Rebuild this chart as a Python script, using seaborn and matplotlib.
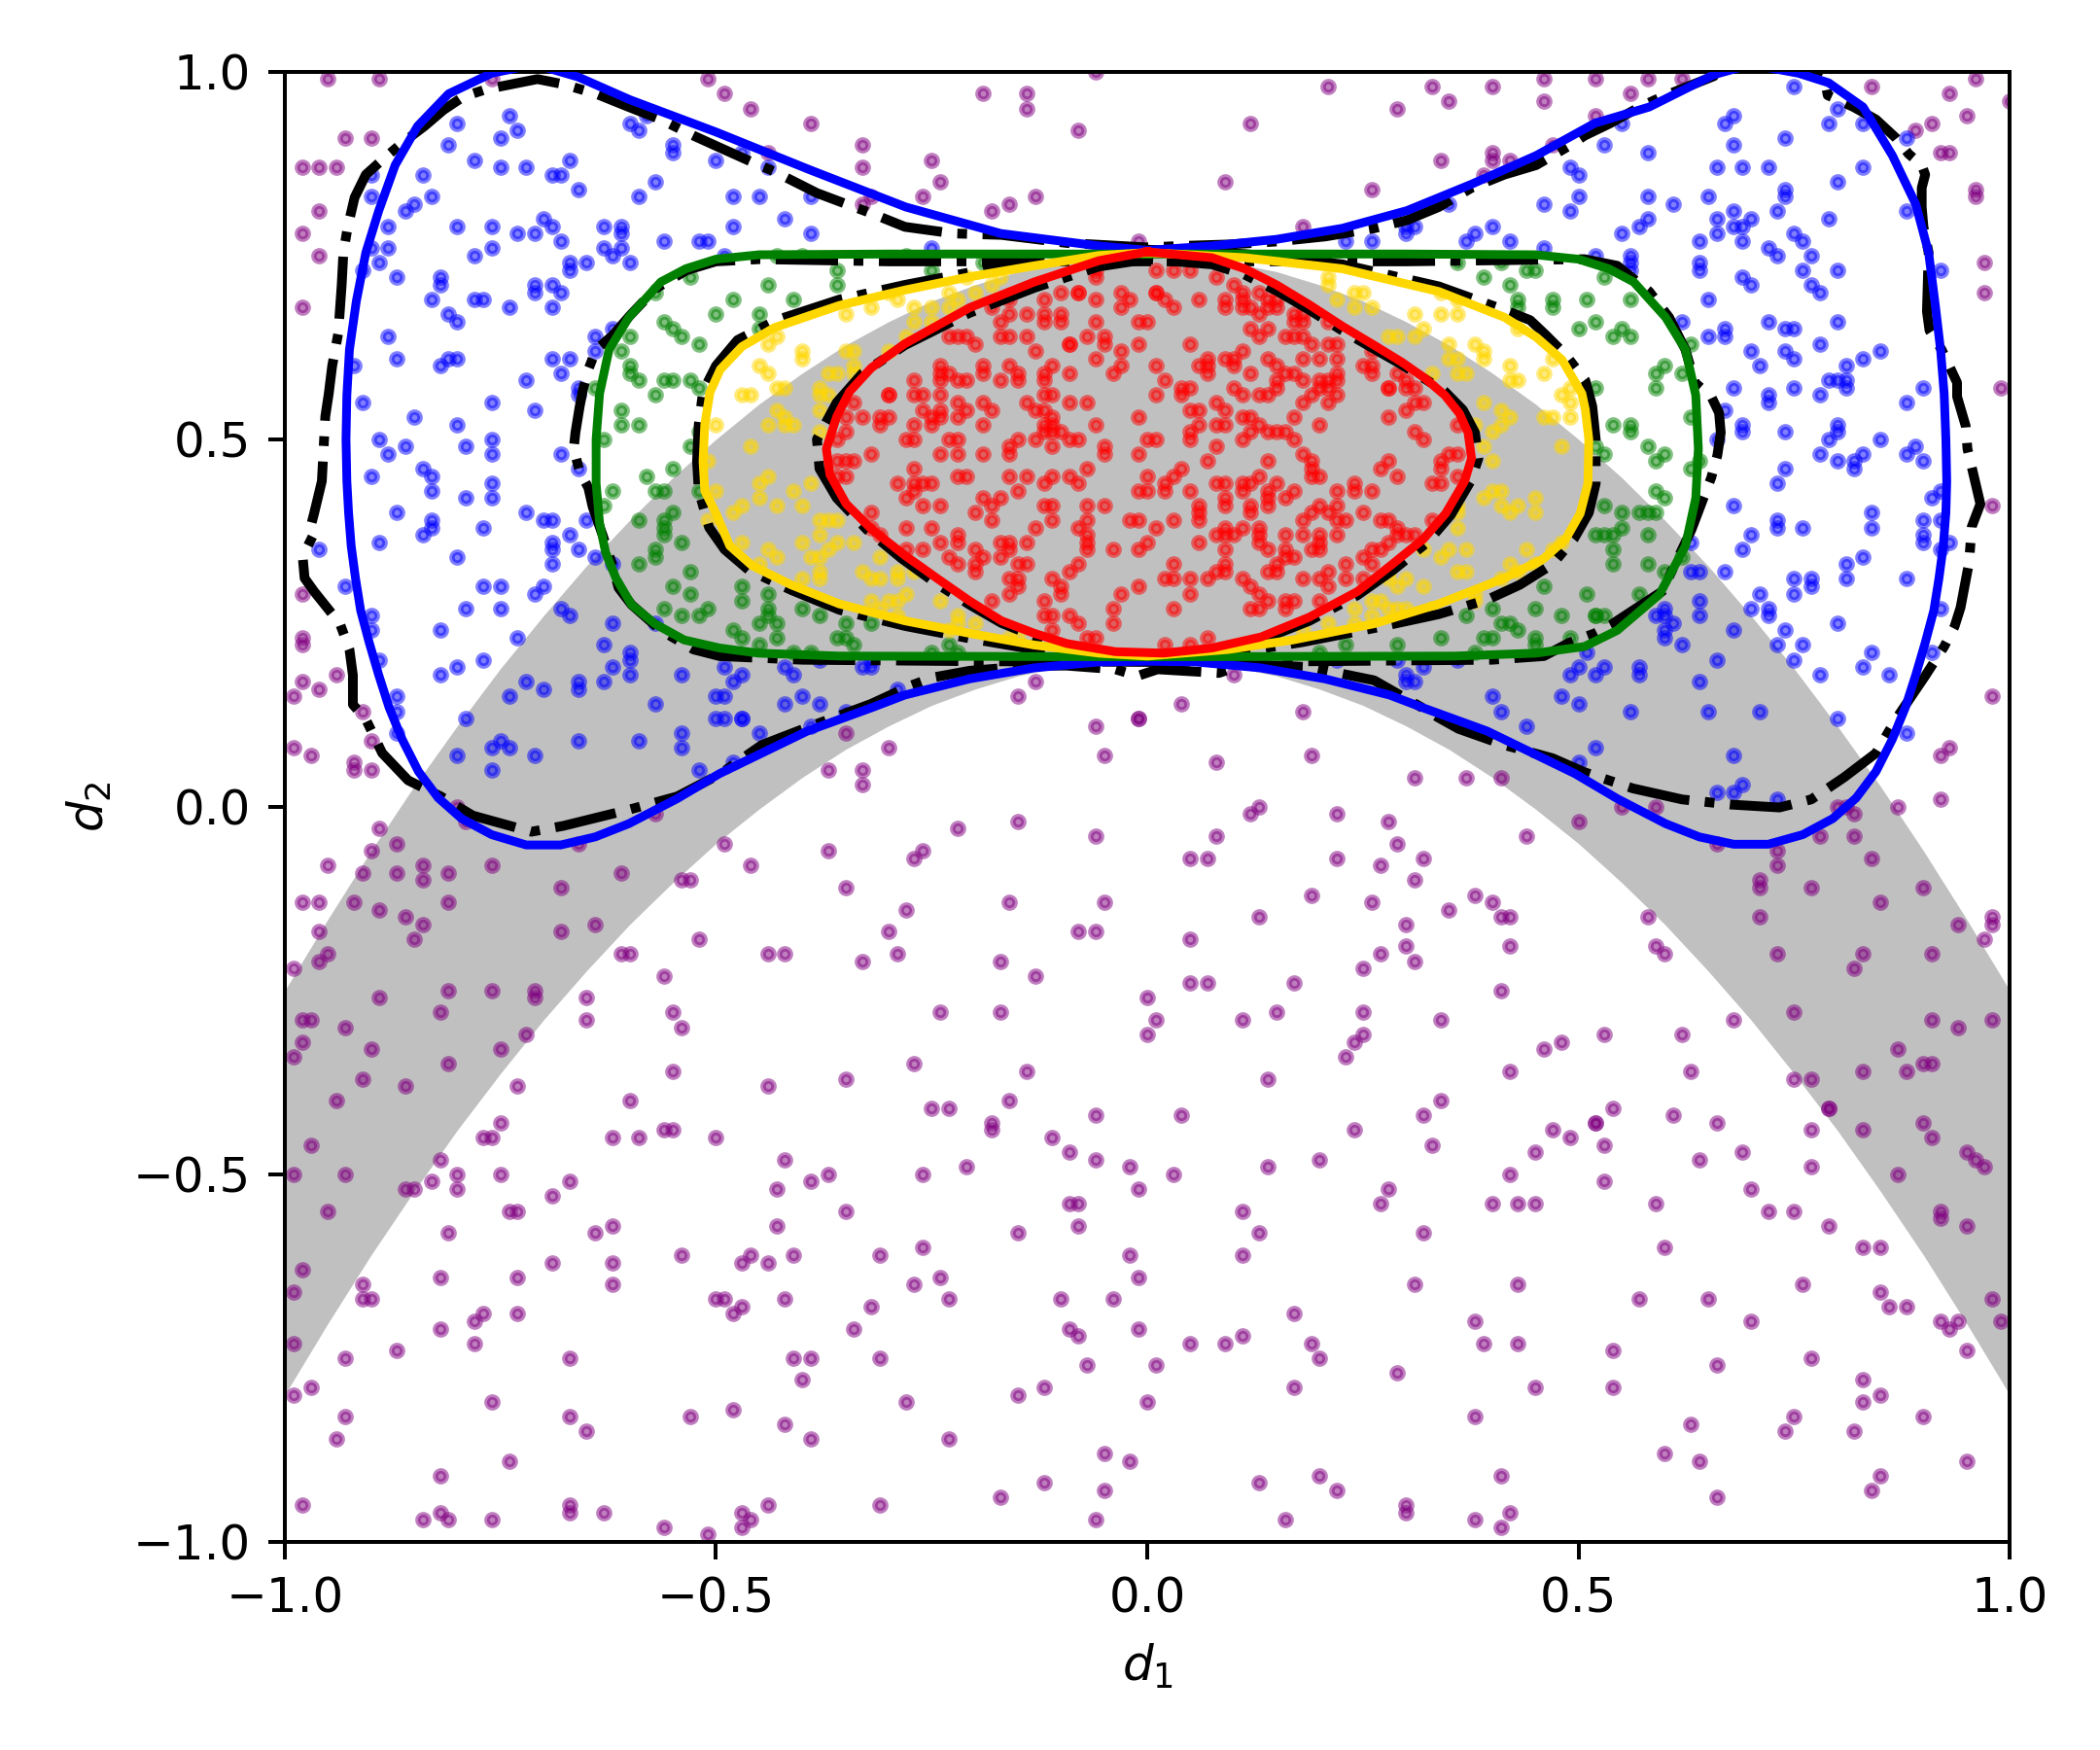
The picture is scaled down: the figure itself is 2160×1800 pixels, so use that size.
import numpy as np
import seaborn as sns
import matplotlib.pyplot as plt

# sample points, (d1, d2) given in hundredths
purple_pts = [
    (-95, 99), (-89, 99), (-93, 91), (-90, 91), (-98, 87), (-96, 87), (-94, 87), (-96, 81), (-98, 78), (-96, 75),
    (-98, 68), (-76, 99), (-51, 99), (-49, 97), (-46, 95), (-39, 93), (-44, 89), (-33, 90), (-33, 87), (-25, 88),
    (-24, 85), (-26, 83), (-32, 83), (-33, 82), (-19, 97), (-14, 97), (-14, 95), (-8, 92), (-6, 100), (-18, 81),
    (-16, 82), (-13, 83), (-1, 77), (21, 98), (12, 93), (33, 98), (29, 95), (35, 96), (40, 98), (46, 99),
    (46, 96), (52, 99), (9, 85), (26, 84), (34, 88), (40, 89), (40, 88), (18, 79), (47, 90), (52, 94),
    (39, 86), (42, 88), (58, 99), (56, 97), (84, 98), (96, 99), (93, 97), (100, 96), (91, 93), (95, 94),
    (89, 92), (93, 89), (92, 89), (96, 84), (96, 83), (97, 74), (97, 70), (99, 57), (62, 99),
    (-98, 29), (-98, 23), (-98, 22), (-94, 18), (-98, 17), (-96, 16), (-99, 15), (-91, 13),
    (-13, 17), (-15, 15), (-1, 12), (10, 18), (4, 14), (18, 13), (98, 41), (98, 15),
    (-99, 8), (-97, 7), (-92, 5), (-92, 6), (-90, 5), (-90, 9), (-80, 0), (-79, -2), (-66, -5), (-57, -1),
    (-89, -3), (-87, -5), (-95, -8), (-90, -6), (-91, -9), (-84, -8), (-84, -10), (-87, -9), (-81, -9), (-76, -8),
    (-68, -11), (-61, -9), (-54, -10), (-53, -10), (-98, -13), (-96, -13), (-92, -13), (-89, -14), (-81, -13), (-86, -15),
    (-84, -16), (-85, -18), (-96, -17), (-96, -21), (-95, -20), (-99, -22), (-68, -17), (-64, -16), (-61, -20), (-60, -20),
    (-52, -18), (-56, -23), (-81, -25), (-76, -25), (-71, -25), (-71, -26), (-89, -26), (-82, -28), (-65, -26), (-65, -29),
    (-98, -29), (-97, -29), (-93, -30), (-98, -32), (-99, -34), (-90, -33), (-81, -35), (-75, -33), (-72, -31), (-55, -28),
    (-54, -30), (-91, -37), (-86, -38), (-73, -38), (-55, -36), (-94, -40), (-60, -40), (-75, -43), (-97, -46), (-77, -45),
    (-76, -45), (-62, -45), (-59, -45), (-56, -44), (-55, -44), (-50, -45), (-99, -50), (-93, -50), (-82, -48), (-80, -50),
    (-83, -51), (-75, -50), (-86, -52), (-85, -52), (-80, -52), (-67, -51), (-69, -53), (-95, -55), (-74, -55), (-73, -55),
    (-81, -58), (-64, -58), (-62, -57), (-69, -62), (-62, -62), (-62, -65), (-54, -61), (-98, -63), (-99, -66), (-91, -65),
    (-91, -67), (-90, -67), (-82, -64), (-73, -64), (-77, -69), (-78, -70), (-73, -69), (-82, -71), (-78, -73), (-99, -73),
    (-87, -74), (-93, -75), (-67, -75), (-99, -80), (-97, -79), (-76, -81), (-93, -83), (-94, -86), (-67, -83), (-65, -85),
    (-53, -83), (-74, -89), (-82, -91), (-98, -95), (-82, -96), (-81, -97), (-84, -97), (-76, -97), (-67, -95), (-67, -96),
    (-63, -96), (-56, -98), (-51, -99), (-50, -67),
    (-35, 10), (-30, 8), (-37, 5), (-33, 5), (-33, 3), (-6, 11), (-1, 12), (-5, 7), (-49, -5), (-46, -8),
    (-37, -6), (-35, -11), (-27, -7), (-26, -6), (-22, -3), (-15, -2), (-6, -4), (-28, -14), (-30, -17), (-44, -20),
    (-42, -20), (-33, -21), (-29, -20), (-16, -13), (-5, -13), (-8, -17), (-6, -17), (-17, -21), (-13, -23), (-24, -28),
    (-17, -28), (0, -26), (1, -29), (0, -31), (-44, -38), (-35, -37), (-27, -35), (-14, -36), (-25, -41), (-23, -41),
    (-16, -40), (-18, -43), (-18, -44), (-6, -42), (-11, -45), (-9, -47), (-6, -48), (-2, -49), (-1, -52), (-42, -48),
    (-43, -52), (-39, -51), (-37, -50), (-26, -50), (-21, -49), (-35, -55), (-43, -57), (-9, -54), (-8, -54), (-8, -57),
    (-15, -58), (-47, -62), (-46, -61), (-44, -62), (-41, -61), (-31, -61), (-26, -60), (-24, -64), (-27, -65), (-23, -67),
    (-2, -61), (-1, -64), (-49, -67), (-48, -69), (-47, -68), (-42, -67), (-32, -68), (-34, -71), (-10, -67), (-4, -67),
    (-9, -71), (-8, -72), (-1, -71), (-7, -76), (1, -76), (-41, -75), (-39, -75), (-31, -75), (-40, -78), (-28, -81),
    (-15, -80), (-12, -79), (0, -81), (-48, -82), (-42, -84), (-39, -86), (-23, -86), (-5, -88), (-2, -89), (-12, -92),
    (-5, -93), (-17, -94), (-44, -95), (-31, -95), (-47, -96), (-46, -97), (-47, -98), (-6, -97),
    (8, 6), (19, 7), (31, 4), (37, 4), (41, 4), (50, -2), (44, -4), (12, -1), (13, 0), (8, -4),
    (5, -7), (7, -7), (22, -1), (22, -7), (28, -2), (29, -5), (27, -8), (32, -7), (31, -10), (19, -12),
    (26, -13), (35, -14), (38, -12), (40, -13), (41, -15), (42, -15), (42, -19), (13, -15), (5, -18), (30, -16),
    (30, -19), (31, -21), (27, -20), (25, -22), (5, -24), (7, -24), (17, -24), (11, -29), (15, -28), (25, -28),
    (25, -31), (24, -32), (23, -34), (34, -29), (41, -25), (42, -36), (46, -33), (48, -32), (14, -37), (4, -42),
    (24, -44), (32, -42), (34, -40), (33, -46), (47, -44), (49, -45), (52, -43), (45, -47), (42, -50), (40, -54),
    (43, -54), (45, -54), (3, -50), (14, -49), (20, -48), (28, -52), (27, -54), (32, -58), (11, -55), (13, -58),
    (11, -61), (31, -65), (43, -65), (17, -69), (38, -70), (39, -73), (43, -73), (5, -73), (9, -73), (11, -72),
    (19, -73), (20, -75), (29, -77), (45, -79), (17, -79), (38, -83), (41, -91), (13, -92), (20, -91), (22, -93),
    (16, -97), (30, -95), (30, -96), (38, -97), (42, -96), (41, -98),
    (92, 7), (93, 8), (92, 1), (87, 0), (80, 0), (81, 0), (82, -1), (55, 0), (59, 0), (66, -5),
    (73, -6), (73, -8), (78, -4), (82, -4), (84, -7), (71, -10), (71, -11), (77, -11), (85, -13), (90, -11),
    (71, -15), (73, -20), (82, -22), (83, -20), (91, -20), (94, -16), (97, -18), (98, -16), (98, -15), (58, -15),
    (59, -19), (60, -20), (75, -28), (91, -29), (94, -30), (98, -29), (68, -29), (53, -31), (62, -31), (87, -33),
    (88, -36), (90, -35), (91, -35), (83, -36), (75, -37), (77, -37), (63, -36), (79, -41), (79, -41), (54, -41),
    (52, -43), (61, -42), (66, -43), (77, -44), (83, -44), (90, -43), (91, -45), (53, -46), (69, -47), (64, -48),
    (77, -49), (87, -50), (95, -47), (96, -48), (97, -49), (53, -51), (70, -52), (59, -54), (72, -55), (75, -55),
    (79, -57), (92, -55), (92, -56), (95, -57), (83, -60), (85, -60), (60, -60), (76, -65), (57, -67), (65, -67),
    (85, -66), (86, -68), (88, -68), (98, -67), (99, -70), (92, -70), (93, -71), (94, -70), (95, -74), (70, -70),
    (54, -74), (66, -76), (77, -75), (54, -79), (83, -78), (85, -80), (83, -81), (75, -83), (74, -85), (82, -85),
    (90, -83), (63, -84), (60, -88), (64, -89), (95, -89), (85, -91), (84, -93), (66, -94),
]

blue_pts = [
    (-80, 93), (-74, 94), (-73, 92), (-75, 91), (-81, 90), (-78, 88), (-75, 87), (-72, 87), (-69, 86), (-68, 86),
    (-67, 88), (-66, 84), (-60, 93), (-59, 92), (-58, 94), (-55, 90), (-55, 89), (-50, 88), (-57, 85), (-59, 83),
    (-84, 86), (-83, 83), (-85, 82), (-86, 81), (-90, 86), (-90, 83), (-88, 79), (-80, 79), (-76, 79), (-70, 80),
    (-69, 79), (-73, 78), (-71, 78), (-68, 77), (-76, 76), (-63, 79), (-61, 79), (-61, 78), (-61, 76), (-63, 76),
    (-62, 75), (-56, 77), (-52, 77), (-51, 77), (-88, 76), (-90, 76), (-89, 74), (-91, 73), (-87, 72), (-78, 75),
    (-65, 74), (-67, 74), (-67, 73), (-60, 74), (-82, 72), (-82, 71), (-83, 69), (-81, 67), (-80, 66), (-78, 69),
    (-77, 69), (-74, 68), (-71, 71), (-71, 70), (-69, 71), (-68, 70), (-69, 68), (-88, 64), (-87, 61), (-81, 61),
    (-82, 60), (-80, 61), (-69, 61), (-67, 61), (-68, 59), (-72, 58), (-92, 60), (-64, 64), (-62, 65), (-64, 62),
    (-66, 57), (-47, 89), (-44, 87), (-48, 83), (-45, 83), (-39, 83), (-42, 80), (-48, 79), (-39, 78), (-25, 76),
    (-49, 75), (23, 77), (26, 77), (30, 79), (30, 78), (31, 79), (35, 82), (37, 77), (38, 78), (40, 79),
    (42, 77), (46, 82), (49, 87), (50, 86), (50, 83), (49, 81), (46, 76),
    (75, 98), (55, 93), (67, 93), (68, 94), (79, 93), (80, 95), (83, 93), (88, 91), (53, 90), (58, 89),
    (68, 90), (74, 91), (66, 87), (69, 87), (72, 87), (83, 87), (80, 85), (74, 84), (74, 83), (58, 83),
    (65, 83), (61, 82), (58, 80), (57, 79), (55, 78), (66, 80), (68, 81), (68, 79), (69, 79), (70, 80),
    (66, 78), (73, 81), (79, 80), (64, 77), (69, 77), (75, 78), (76, 77), (72, 76), (73, 75), (56, 75),
    (56, 74), (56, 73), (52, 75), (64, 74), (64, 73), (77, 75), (76, 73), (80, 73), (88, 81), (69, 72),
    (70, 71), (77, 71), (78, 70), (65, 69), (92, 73), (80, 66), (72, 66), (74, 65), (75, 65), (67, 65),
    (67, 64), (65, 64), (62, 66), (70, 62), (74, 62), (75, 61), (78, 63), (83, 61), (85, 62), (71, 60),
    (81, 60), (79, 58), (80, 58), (81, 58), (81, 57), (68, 57), (75, 57), (90, 57),
    (-91, 55), (-85, 53), (-80, 52), (-76, 55), (-71, 54), (-89, 50), (-88, 48), (-86, 49), (-79, 49), (-76, 50),
    (-76, 48), (-84, 46), (-83, 45), (-83, 43), (-90, 45), (-76, 44), (-79, 42), (-76, 42), (-68, 48), (-66, 46),
    (-87, 40), (-83, 39), (-83, 38), (-84, 37), (-77, 38), (-72, 40), (-70, 39), (-69, 39), (-65, 39), (-67, 37),
    (-69, 36), (-69, 35), (-69, 33), (-66, 35), (-64, 34), (-89, 36), (-80, 34), (-96, 35), (-93, 30), (-77, 30),
    (-75, 30), (-70, 30), (-71, 29), (-79, 27), (-75, 27), (-90, 26), (-90, 24), (-82, 24), (-73, 23), (-68, 27),
    (-67, 26), (-62, 25), (-62, 33), (-63, 22), (-60, 21), (-60, 20), (-62, 19), (-63, 17), (-60, 18), (-54, 18),
    (-57, 14), (-77, 20), (-80, 19), (-82, 18), (-89, 20), (-87, 15), (-87, 13), (-72, 17), (-70, 16), (-66, 17),
    (-66, 16), (-74, 15), (-57, 25), (-79, 12), (-50, 15), (-66, 56),
    (-49, 19), (-47, 18), (-48, 17), (-49, 15), (-42, 19), (-41, 18), (-38, 20), (-33, 19), (-32, 19), (-29, 16),
    (-42, 14), (-40, 15), (-38, 14), (-49, 12), (-47, 12), (-35, 13), (-32, 20),
    (22, 20), (29, 20), (30, 18), (30, 17), (31, 17), (32, 19), (36, 20), (40, 15), (41, 13), (49, 18),
    (50, 19), (48, 15), (50, 14), (51, 21),
    (72, 56), (72, 55), (78, 56), (88, 55), (67, 54), (69, 52), (69, 51), (74, 51), (66, 50), (80, 52),
    (80, 51), (79, 50), (78, 48), (80, 47), (82, 47), (82, 46), (83, 48), (85, 50), (88, 48), (90, 47),
    (89, 49), (74, 46), (73, 44), (92, 43), (91, 42), (68, 41), (73, 39), (73, 38), (76, 38), (84, 40),
    (84, 38), (90, 39), (90, 37), (90, 36), (92, 35), (93, 36), (92, 39), (70, 37), (69, 35), (83, 34),
    (81, 33), (81, 31), (88, 31), (75, 31), (77, 31), (75, 29), (77, 30), (67, 32), (63, 32), (64, 32),
    (63, 36), (71, 29), (70, 27), (72, 27), (72, 26), (92, 27), (64, 28), (64, 26), (60, 27), (59, 26),
    (60, 26), (61, 25), (60, 24), (60, 23), (68, 24), (74, 24), (80, 25), (73, 22), (76, 22), (84, 21),
    (91, 21), (62, 22), (66, 20), (75, 20), (78, 18), (83, 19), (86, 18), (52, 18), (53, 19), (57, 19),
    (57, 18), (64, 17), (56, 13), (65, 13), (71, 13), (80, 12),
    (-75, 9), (-76, 8), (-74, 8), (-71, 7), (-80, 7), (-76, 5), (-66, 9), (-59, 9), (-54, 10), (-54, 8),
    (-52, 5), (-50, 12), (-87, 10), (-47, 12), (-45, 10), (-48, 6), (-39, 11), (44, 11), (52, 8), (50, 6),
    (68, 7), (66, 2), (68, 2), (69, 3), (73, 1), (88, 10),
]

green_pts = [
    (-53, 72), (-50, 67), (-56, 66), (-55, 65), (-54, 64), (-52, 63), (-60, 64), (-60, 60), (-60, 59), (-59, 58),
    (-61, 62), (-56, 58), (-55, 58), (-53, 58), (-52, 57), (-64, 57), (-57, 70), (-43, 75), (-40, 75), (-36, 73),
    (-36, 71), (-25, 73), (-28, 75), (-44, 71), (-48, 69), (-41, 69), (-45, 67), (-45, 65), (-19, 74),
    (36, 74), (41, 74), (39, 72), (42, 71), (44, 73), (45, 73), (43, 69), (43, 68), (47, 69), (47, 68),
    (51, 69), (50, 65), (53, 72), (56, 69), (52, 66), (55, 65), (56, 64), (54, 64), (63, 63), (59, 59),
    (60, 60), (62, 59), (52, 57), (59, 57),
    (-61, 54), (-61, 52), (-59, 52), (-63, 50), (-57, 56), (-52, 51), (-53, 49), (-55, 46), (-58, 45), (-62, 43),
    (-57, 43), (-56, 43), (-52, 43), (-59, 39), (-56, 39), (-56, 38), (-56, 37), (-55, 40), (-54, 36), (-59, 33),
    (-57, 34), (-57, 35), (-53, 32), (-55, 30), (-53, 29), (-51, 27), (-52, 26), (-56, 27), (-54, 26), (-63, 41),
    (-47, 30), (-47, 28), (-44, 29), (-44, 27), (-44, 26), (-45, 25), (-40, 27), (-38, 26), (-43, 25), (-43, 23),
    (-48, 24), (-47, 23), (-45, 22), (-41, 21), (-35, 25), (-32, 25), (-36, 23), (-35, 23), (-34, 22), (-25, 21),
    (-23, 22), (-22, 21), (-39, 21),
    (46, 30), (40, 27), (37, 26), (45, 27), (48, 26), (51, 29), (41, 25), (42, 25), (43, 24), (40, 23),
    (39, 23), (45, 23), (45, 22), (49, 23), (52, 26), (34, 23), (29, 22), (23, 22), (20, 21), (38, 21),
    (54, 52), (56, 52), (56, 51), (58, 49), (60, 48), (59, 47), (63, 53), (52, 49), (53, 48), (63, 46),
    (64, 47), (59, 43), (60, 42), (53, 41), (55, 40), (57, 40), (58, 40), (59, 40), (55, 38), (52, 37),
    (53, 37), (54, 37), (58, 37), (54, 35), (54, 33), (58, 33), (60, 32), (62, 34), (57, 29), (52, 26),
    (53, 26),
]

gold_pts = [
    (-21, 72), (-23, 70), (-18, 71), (-17, 72), (-20, 70), (-22, 69), (-30, 70), (-29, 69), (-32, 68), (-35, 67),
    (-27, 68), (-25, 68), (-23, 68), (-27, 66), (-25, 66), (-28, 64), (-43, 64), (-44, 63), (-40, 62), (-40, 61),
    (-35, 62), (-34, 62), (-30, 62), (-34, 60), (-34, 59), (-37, 59), (-36, 59), (-45, 60), (-44, 59), (-43, 57),
    (-42, 57), (-38, 57), (-47, 56),
    (21, 72), (21, 71), (22, 69), (24, 70), (25, 70), (24, 68), (26, 68), (31, 67), (34, 70), (36, 69),
    (34, 67), (36, 67), (28, 64), (29, 64), (31, 64), (32, 65), (35, 63), (38, 63), (39, 62), (35, 61),
    (36, 61), (36, 59), (37, 59), (39, 61), (42, 60), (42, 58), (43, 58), (46, 59), (47, 61), (43, 65),
    (49, 57), (33, 59),
    (-46, 56), (-38, 56), (-37, 56), (-43, 54), (-42, 53), (-42, 52), (-38, 54), (-44, 52), (-41, 52), (-38, 51),
    (-46, 49), (-51, 47), (-44, 45), (-45, 44), (-45, 42), (-41, 43), (-39, 44), (-50, 43), (-47, 41), (-43, 41),
    (-40, 41), (-48, 40), (-38, 39), (-37, 39), (-36, 39), (-47, 36), (-44, 35), (-43, 34), (-40, 36), (-38, 37),
    (-36, 36), (-37, 35), (-34, 36), (-39, 34), (-38, 34), (-31, 34), (-38, 32), (-45, 33), (-33, 32), (-40, 31),
    (-38, 31), (-32, 31), (-31, 31), (-29, 32), (-29, 31), (-27, 32), (-32, 28), (-30, 28), (-29, 28), (-28, 29),
    (-31, 27), (-29, 26), (-24, 28), (-22, 26), (-22, 25), (-23, 24), (-20, 25), (-16, 23), (-15, 23), (-50, 52),
    (-51, 39),
    (39, 55), (41, 54), (42, 53), (41, 52), (40, 51), (38, 52), (46, 53), (47, 53), (49, 53), (48, 56),
    (49, 55), (39, 49), (48, 49), (40, 47), (39, 42), (40, 43), (41, 43), (41, 41), (42, 40), (43, 41),
    (45, 42), (45, 40), (36, 41), (36, 40), (36, 38), (32, 35), (34, 34), (35, 35), (37, 35), (36, 32),
    (37, 32), (44, 35), (42, 33), (41, 31), (43, 32), (45, 33), (38, 29), (38, 28), (47, 35), (48, 36),
    (28, 32), (30, 31), (29, 30), (28, 31), (32, 30), (24, 27), (26, 28), (27, 28), (28, 27), (29, 27),
    (26, 26), (30, 27), (33, 27), (21, 25), (18, 24), (24, 25),
]

red_pts = [
    (-6, 72), (-6, 73), (-3, 70), (-2, 69), (-3, 68), (-12, 69), (-10, 70), (-8, 70), (-8, 70), (-6, 69),
    (1, 70), (-18, 68), (-16, 69), (-17, 66), (-16, 67), (-14, 67), (-12, 67), (-10, 67), (-12, 66), (-10, 66),
    (-6, 66), (-1, 66), (-23, 64), (-22, 64), (-21, 64), (-20, 63), (-17, 64), (-16, 64), (-14, 64), (-13, 62),
    (-9, 63), (-9, 63), (-7, 64), (-5, 64), (-5, 63), (-3, 62), (-1, 63), (-24, 60), (-24, 59), (-23, 59),
    (-22, 58), (-21, 58), (-19, 60), (-19, 59), (-16, 60), (-15, 59), (-17, 58), (-15, 58), (-12, 59), (-11, 60),
    (-12, 58), (-9, 59), (-6, 61), (-4, 59), (-3, 60), (-27, 58), (-24, 58), (-30, 56), (-11, 56),
    (3, 73), (5, 73), (1, 73), (8, 72), (10, 71), (11, 70), (13, 70), (14, 69), (1, 70), (2, 69),
    (3, 68), (6, 69), (9, 69), (9, 68), (11, 68), (11, 69), (12, 68), (13, 67), (15, 69), (15, 68),
    (14, 68), (12, 65), (14, 65), (13, 64), (17, 67), (18, 67), (17, 66), (18, 66), (16, 64), (17, 64),
    (18, 64), (21, 66), (5, 63), (0, 66), (11, 62), (10, 61), (7, 61), (6, 60), (7, 60), (9, 61),
    (10, 60), (1, 60), (2, 58), (4, 57), (7, 59), (12, 59), (14, 61), (15, 60), (15, 58), (16, 59),
    (17, 59), (18, 58), (18, 61), (19, 63), (20, 61), (21, 63), (22, 63), (22, 61), (22, 59), (20, 58),
    (21, 58), (22, 58), (25, 60), (26, 60), (26, 62), (26, 59), (29, 59), (30, 58), (28, 57),
    (-30, 56), (-34, 55), (-27, 56), (-26, 56), (-24, 56), (-22, 55), (-22, 53), (-21, 54), (-26, 54), (-25, 53),
    (-24, 53), (-24, 54), (-27, 52), (-25, 52), (-19, 55), (-18, 54), (-19, 52), (-33, 53), (-31, 53), (-30, 53),
    (-31, 52), (-35, 53), (-35, 51), (-36, 50), (-32, 48), (-28, 50), (-27, 50), (-23, 50), (-22, 50), (-24, 48),
    (-22, 48), (-19, 48), (-16, 48), (-16, 49), (-15, 50), (-14, 55), (-12, 56), (-9, 55), (-7, 55), (-13, 54),
    (-12, 54), (-11, 53), (-12, 52), (-11, 52), (-11, 51), (-10, 51), (-13, 50), (-12, 51), (-11, 49), (-9, 50),
    (-8, 50), (-6, 52), (-5, 49), (-5, 48), (-1, 53), (0, 50), (1, 50), (-1, 48), (1, 56), (-36, 47),
    (-35, 47), (-34, 47), (-36, 45), (-35, 45), (-27, 46), (-27, 44), (-26, 44), (-25, 44), (-29, 44), (-28, 42),
    (-27, 43), (-26, 41), (-24, 41), (-22, 45), (-21, 45), (-19, 42), (-20, 40), (-18, 41), (-17, 42), (-18, 39),
    (-16, 45), (-15, 43), (-14, 45), (-12, 44), (-11, 45), (-9, 45), (-8, 44), (-7, 46), (-12, 41), (-11, 41),
    (-11, 39), (-13, 38), (-14, 36), (-7, 41), (-7, 39), (-5, 41), (-1, 43), (0, 43), (0, 45), (-2, 39),
    (-1, 39), (1, 38), (-8, 38), (-7, 37), (-7, 36), (-7, 35), (-4, 35), (0, 36), (-8, 33), (-9, 32),
    (-11, 31), (-10, 30), (-10, 29), (-12, 28), (-3, 29), (-1, 30), (-4, 27), (-4, 25), (-12, 26), (-11, 26),
    (-9, 26), (-8, 25), (-11, 24), (-7, 23), (-6, 23), (-28, 38), (-25, 38), (-32, 40), (-32, 38), (-31, 37),
    (-28, 35), (-26, 35), (-24, 36), (-22, 37), (-22, 36), (-20, 35), (-23, 34), (-22, 33), (-20, 33), (-20, 32),
    (-19, 34), (-17, 34), (-17, 36), (-16, 36), (-16, 35), (-15, 33), (-14, 33), (-16, 31), (-15, 31), (-15, 30),
    (-16, 29), (-18, 28), (-1, 35),
    (4, 56), (5, 57), (5, 54), (6, 54), (6, 52), (8, 55), (9, 54), (8, 52), (9, 52), (10, 57),
    (11, 56), (11, 53), (12, 53), (13, 56), (14, 56), (15, 57), (19, 56), (18, 55), (17, 53), (20, 57),
    (21, 57), (22, 56), (21, 55), (20, 52), (28, 57), (30, 57), (31, 57), (28, 53), (30, 54), (31, 55),
    (32, 55), (31, 51), (32, 50), (36, 52), (35, 48), (36, 48), (34, 47), (34, 46), (34, 44), (33, 44),
    (36, 45), (27, 46), (28, 47), (29, 45), (5, 51), (5, 50), (8, 49), (7, 47), (11, 50), (12, 51),
    (14, 51), (15, 51), (16, 51), (17, 50), (13, 52), (18, 48), (14, 47), (4, 46), (3, 45), (2, 44),
    (2, 43), (5, 43), (8, 44), (9, 44), (11, 44), (11, 43), (12, 44), (13, 45), (14, 43), (15, 44),
    (14, 42), (17, 43), (19, 47), (19, 46), (19, 45), (20, 45), (9, 42), (9, 41), (6, 41), (6, 40),
    (12, 41), (12, 40), (14, 41), (16, 42), (20, 41), (22, 43), (22, 41), (21, 40), (24, 44), (24, 43),
    (26, 43), (19, 40), (18, 39), (18, 37), (20, 37), (22, 39), (23, 39), (22, 37), (25, 40), (27, 39),
    (28, 39), (29, 38), (29, 37), (3, 39), (6, 36), (6, 39), (8, 37), (9, 37), (9, 38), (11, 38),
    (10, 37), (13, 38), (13, 36), (14, 35), (13, 37), (16, 37), (16, 35), (16, 34), (17, 34), (19, 35),
    (20, 35), (20, 36), (15, 33), (9, 35), (9, 33), (3, 33), (8, 32), (9, 32), (5, 31), (7, 31),
    (2, 31), (3, 31), (14, 32), (15, 32), (11, 31), (12, 30), (13, 29), (14, 28), (13, 27), (18, 31),
    (20, 31), (21, 30), (20, 28), (21, 32), (23, 33), (23, 31), (26, 35), (27, 35), (25, 34), (26, 33),
    (28, 36), (30, 37), (31, 37), (16, 28), (17, 28), (16, 27), (5, 29), (3, 27), (12, 27), (2, 22),
    (5, 22), (7, 23), (33, 39), (25, 31),
]

# true region boundaries (d1, d2)
blue_curve = [
    (0.0, 0.757), (-0.056, 0.763), (-0.17, 0.78), (-0.28, 0.816), (-0.39, 0.866), (-0.5, 0.918), (-0.6, 0.962),
    (-0.66, 0.993), (-0.71, 1.01), (-0.76, 0.998), (-0.81, 0.97), (-0.846, 0.926), (-0.872, 0.873), (-0.891, 0.811),
    (-0.906, 0.754), (-0.917, 0.688), (-0.925, 0.622), (-0.928, 0.56), (-0.929, 0.5), (-0.928, 0.443), (-0.926, 0.4),
    (-0.923, 0.355), (-0.918, 0.311), (-0.912, 0.267), (-0.902, 0.223), (-0.891, 0.179), (-0.879, 0.135),
    (-0.864, 0.092), (-0.845, 0.048), (-0.822, 0.012), (-0.795, -0.016), (-0.76, -0.038), (-0.72, -0.052),
    (-0.68, -0.052), (-0.64, -0.041), (-0.601, -0.023), (-0.545, 0.011), (-0.496, 0.045), (-0.394, 0.103),
    (-0.319, 0.135), (-0.281, 0.152), (-0.206, 0.174), (-0.131, 0.189), (-0.056, 0.197), (0.0, 0.198),
    (0.056, 0.197), (0.131, 0.189), (0.206, 0.174), (0.281, 0.152), (0.319, 0.135), (0.394, 0.103), (0.496, 0.045),
    (0.545, 0.011), (0.601, -0.023), (0.64, -0.041), (0.68, -0.051), (0.72, -0.051), (0.76, -0.038), (0.795, -0.016),
    (0.822, 0.012), (0.845, 0.048), (0.864, 0.092), (0.879, 0.135), (0.891, 0.179), (0.902, 0.223), (0.912, 0.267),
    (0.918, 0.311), (0.923, 0.355), (0.926, 0.4), (0.927, 0.443), (0.926, 0.5), (0.924, 0.562), (0.92, 0.62),
    (0.914, 0.68), (0.906, 0.754), (0.891, 0.82), (0.864, 0.886), (0.83, 0.952), (0.79, 0.985), (0.755, 0.998),
    (0.7, 1.01), (0.657, 0.996), (0.582, 0.952), (0.519, 0.93), (0.451, 0.886), (0.376, 0.847), (0.301, 0.811),
    (0.226, 0.787), (0.15, 0.772), (0.075, 0.763), (0.0, 0.757),
]
green_curve = [
    (0.0, 0.752), (-0.3, 0.752), (-0.45, 0.751), (-0.5, 0.745), (-0.535, 0.732), (-0.564, 0.714), (-0.601, 0.666),
    (-0.624, 0.622), (-0.635, 0.562), (-0.639, 0.5), (-0.639, 0.44), (-0.635, 0.386), (-0.628, 0.346),
    (-0.616, 0.311), (-0.598, 0.275), (-0.571, 0.249), (-0.537, 0.227), (-0.496, 0.216), (-0.451, 0.209),
    (-0.357, 0.205), (0.0, 0.204), (0.357, 0.205), (0.451, 0.209), (0.507, 0.218), (0.545, 0.24), (0.594, 0.289),
    (0.624, 0.355), (0.636, 0.42), (0.639, 0.487), (0.636, 0.56), (0.624, 0.622), (0.601, 0.666), (0.564, 0.714),
    (0.535, 0.732), (0.5, 0.745), (0.45, 0.751), (0.3, 0.752), (0.0, 0.752),
]
gold_curve = [
    (0.0, 0.754), (-0.056, 0.75), (-0.131, 0.736), (-0.206, 0.721), (-0.281, 0.703), (-0.357, 0.682),
    (-0.432, 0.652), (-0.47, 0.626), (-0.495, 0.595), (-0.507, 0.564), (-0.513, 0.52), (-0.515, 0.47),
    (-0.513, 0.43), (-0.5, 0.399), (-0.484, 0.355), (-0.458, 0.328), (-0.413, 0.302), (-0.357, 0.276),
    (-0.281, 0.253), (-0.206, 0.236), (-0.131, 0.22), (-0.056, 0.209), (0.0, 0.205), (0.094, 0.214), (0.169, 0.227),
    (0.263, 0.249), (0.338, 0.276), (0.414, 0.311), (0.459, 0.337), (0.485, 0.364), (0.502, 0.399), (0.511, 0.44),
    (0.512, 0.5), (0.508, 0.54), (0.504, 0.562), (0.481, 0.608), (0.451, 0.639), (0.414, 0.666), (0.338, 0.701),
    (0.226, 0.732), (0.113, 0.747), (0.0, 0.754),
]
red_curve = [
    (0.0, 0.755), (-0.056, 0.743), (-0.131, 0.714), (-0.206, 0.679), (-0.281, 0.63), (-0.32, 0.597),
    (-0.345, 0.565), (-0.36, 0.531), (-0.372, 0.487), (-0.368, 0.452), (-0.349, 0.412), (-0.319, 0.377),
    (-0.281, 0.342), (-0.244, 0.311), (-0.206, 0.28), (-0.169, 0.253), (-0.131, 0.236), (-0.093, 0.222),
    (-0.037, 0.211), (0.019, 0.209), (0.075, 0.216), (0.132, 0.231), (0.188, 0.258), (0.244, 0.293), (0.282, 0.328),
    (0.32, 0.364), (0.346, 0.399), (0.368, 0.443), (0.376, 0.474), (0.372, 0.509), (0.362, 0.535), (0.345, 0.56),
    (0.322, 0.583), (0.295, 0.605), (0.263, 0.628), (0.226, 0.654), (0.188, 0.683), (0.15, 0.71), (0.113, 0.732),
    (0.075, 0.747), (0.0, 0.755),
]

# estimated boundaries (black dash-dot)
blue_est = [
    (0.0, 0.761), (-0.093, 0.767), (-0.169, 0.778), (-0.225, 0.78), (-0.281, 0.789), (-0.319, 0.807),
    (-0.349, 0.82), (-0.383, 0.835), (-0.432, 0.864), (-0.458, 0.877), (-0.496, 0.897), (-0.526, 0.913),
    (-0.564, 0.935), (-0.601, 0.952), (-0.639, 0.97), (-0.677, 0.983), (-0.707, 0.99), (-0.767, 0.976),
    (-0.793, 0.966), (-0.816, 0.948), (-0.838, 0.926), (-0.865, 0.902), (-0.887, 0.88), (-0.906, 0.86),
    (-0.919, 0.829), (-0.927, 0.789), (-0.932, 0.754), (-0.934, 0.71), (-0.938, 0.644), (-0.945, 0.6),
    (-0.949, 0.562), (-0.953, 0.531), (-0.955, 0.487), (-0.957, 0.443), (-0.966, 0.399), (-0.97, 0.381),
    (-0.966, 0.372), (-0.977, 0.346), (-0.979, 0.337), (-0.977, 0.311), (-0.966, 0.293), (-0.936, 0.249),
    (-0.925, 0.214), (-0.921, 0.179), (-0.921, 0.139), (-0.906, 0.119), (-0.887, 0.073), (-0.857, 0.036),
    (-0.819, 0.014), (-0.782, -0.012), (-0.714, -0.034), (-0.677, -0.026), (-0.601, -0.004), (-0.545, 0.014),
    (-0.496, 0.044), (-0.447, 0.084), (-0.394, 0.108), (-0.32, 0.14), (-0.274, 0.165), (-0.248, 0.176),
    (-0.206, 0.185), (-0.131, 0.192), (-0.093, 0.192), (-0.037, 0.187), (-0.011, 0.178), (0.012, 0.187),
    (0.083, 0.182), (0.113, 0.194), (0.188, 0.19), (0.263, 0.172), (0.32, 0.134), (0.338, 0.121), (0.361, 0.106),
    (0.414, 0.084), (0.47, 0.066), (0.507, 0.047), (0.563, 0.025), (0.62, 0.01), (0.676, 0.003), (0.733, -0.001),
    (0.77, 0.01), (0.808, 0.04), (0.845, 0.073), (0.868, 0.119), (0.902, 0.178), (0.924, 0.218), (0.936, 0.245),
    (0.943, 0.271), (0.953, 0.333), (0.954, 0.35), (0.956, 0.381), (0.966, 0.412), (0.958, 0.452), (0.951, 0.487),
    (0.949, 0.518), (0.939, 0.558), (0.939, 0.577), (0.921, 0.622), (0.907, 0.648), (0.904, 0.674), (0.906, 0.754),
    (0.9, 0.789), (0.898, 0.816), (0.898, 0.842), (0.902, 0.86), (0.898, 0.873), (0.883, 0.888), (0.868, 0.91),
    (0.845, 0.935), (0.819, 0.952), (0.789, 0.968), (0.785, 0.992), (0.76, 1.01), (0.66, 1.01), (0.657, 0.994),
    (0.597, 0.966), (0.571, 0.952), (0.537, 0.93), (0.507, 0.913), (0.489, 0.899), (0.451, 0.873), (0.414, 0.86),
    (0.376, 0.842), (0.338, 0.816), (0.301, 0.798), (0.263, 0.787), (0.207, 0.776), (0.15, 0.769), (0.094, 0.765),
    (0.038, 0.763), (0.0, 0.761),
]
green_est = [
    (0.0, 0.742), (-0.3, 0.742), (-0.45, 0.745), (-0.5, 0.742), (-0.534, 0.73), (-0.57, 0.705), (-0.6, 0.668),
    (-0.62, 0.641), (-0.639, 0.622), (-0.648, 0.595), (-0.654, 0.569), (-0.658, 0.545), (-0.663, 0.509),
    (-0.665, 0.487), (-0.658, 0.456), (-0.648, 0.434), (-0.643, 0.408), (-0.631, 0.368), (-0.62, 0.328),
    (-0.613, 0.298), (-0.598, 0.275), (-0.564, 0.24), (-0.526, 0.214), (-0.496, 0.205), (-0.4, 0.2), (-0.2, 0.198),
    (0.0, 0.197), (0.2, 0.198), (0.4, 0.2), (0.46, 0.205), (0.489, 0.223), (0.519, 0.236), (0.537, 0.247),
    (0.563, 0.267), (0.597, 0.293), (0.631, 0.377), (0.654, 0.448), (0.661, 0.478), (0.665, 0.509), (0.663, 0.536),
    (0.654, 0.558), (0.635, 0.577), (0.624, 0.622), (0.605, 0.666), (0.582, 0.701), (0.545, 0.736), (0.507, 0.745),
    (0.3, 0.742), (0.0, 0.742),
]
gold_est = [
    (0.0, 0.758), (-0.131, 0.742), (-0.206, 0.727), (-0.281, 0.71), (-0.357, 0.69), (-0.43, 0.662), (-0.475, 0.635),
    (-0.5, 0.6), (-0.515, 0.565), (-0.52, 0.52), (-0.522, 0.47), (-0.52, 0.43), (-0.508, 0.38), (-0.49, 0.35),
    (-0.462, 0.322), (-0.413, 0.295), (-0.357, 0.268), (-0.281, 0.246), (-0.206, 0.229), (-0.131, 0.214),
    (-0.056, 0.204), (0.0, 0.2), (0.094, 0.208), (0.18, 0.224), (0.263, 0.243), (0.338, 0.262), (0.395, 0.282),
    (0.432, 0.302), (0.47, 0.33), (0.495, 0.365), (0.512, 0.4), (0.52, 0.44), (0.52, 0.5), (0.516, 0.545),
    (0.508, 0.58), (0.485, 0.615), (0.462, 0.642), (0.444, 0.662), (0.414, 0.676), (0.338, 0.708), (0.226, 0.738),
    (0.113, 0.752), (0.0, 0.758),
]
red_est = [
    (0.0, 0.745), (-0.056, 0.735), (-0.131, 0.706), (-0.206, 0.672), (-0.281, 0.628), (-0.33, 0.59), (-0.36, 0.55),
    (-0.383, 0.5), (-0.38, 0.46), (-0.36, 0.42), (-0.325, 0.377), (-0.285, 0.338), (-0.246, 0.305), (-0.206, 0.275),
    (-0.169, 0.25), (-0.131, 0.232), (-0.093, 0.218), (-0.037, 0.207), (0.019, 0.205), (0.075, 0.212),
    (0.132, 0.227), (0.188, 0.253), (0.244, 0.288), (0.285, 0.322), (0.325, 0.36), (0.352, 0.397), (0.375, 0.443),
    (0.384, 0.474), (0.38, 0.509), (0.366, 0.54), (0.345, 0.565), (0.318, 0.585), (0.29, 0.605), (0.26, 0.625),
    (0.226, 0.648), (0.188, 0.676), (0.15, 0.702), (0.113, 0.724), (0.075, 0.738), (0.0, 0.745),
]

# grey band
band_d1 = [-1.0, -0.95, -0.9, -0.85, -0.8, -0.75, -0.7, -0.65, -0.6, -0.55, -0.5, -0.45, -0.4, -0.35,
           -0.3, -0.25, -0.2, -0.15, -0.1, -0.05, 0.0, 0.05, 0.1, 0.15, 0.2, 0.25, 0.3, 0.35,
           0.4, 0.45, 0.5, 0.55, 0.6, 0.65, 0.7, 0.75, 0.8, 0.85, 0.9, 0.95, 1.0]
band_hi = [-0.25, -0.153, -0.06, 0.028, 0.11, 0.188, 0.26, 0.328, 0.39, 0.448, 0.5, 0.548, 0.59, 0.628,
           0.66, 0.688, 0.71, 0.728, 0.74, 0.748, 0.75, 0.748, 0.74, 0.728, 0.71, 0.688, 0.66, 0.628,
           0.59, 0.548, 0.5, 0.448, 0.39, 0.328, 0.26, 0.188, 0.11, 0.028, -0.06, -0.153, -0.25]
band_lo = [-0.8, -0.703, -0.61, -0.523, -0.44, -0.363, -0.29, -0.223, -0.16, -0.103, -0.05, -0.003, 0.04, 0.078,
           0.11, 0.138, 0.16, 0.178, 0.19, 0.198, 0.2, 0.198, 0.19, 0.178, 0.16, 0.138, 0.11, 0.078,
           0.04, -0.003, -0.05, -0.103, -0.16, -0.223, -0.29, -0.363, -0.44, -0.523, -0.61, -0.703, -0.8]

plt.rcParams['font.size'] = 10
fig, ax = plt.subplots(figsize=(6, 5), dpi=360)
fig.subplots_adjust(left=0.1356, right=0.957, bottom=0.119, top=0.959)

ax.fill_between(band_d1, band_lo, band_hi, color='silver', lw=0, zorder=0)

for pts, c in [(purple_pts, 'purple'), (blue_pts, 'blue'), (green_pts, 'green'),
               (gold_pts, 'gold'), (red_pts, 'red')]:
    a = np.array(pts) / 100.0
    sns.scatterplot(x=a[:, 0], y=a[:, 1], color=c, alpha=0.5, s=5,
                    edgecolor=c, linewidth=1.1, ax=ax, zorder=2, legend=False)

for cur in [blue_est, green_est, gold_est, red_est]:
    a = np.array(cur)
    ax.plot(a[:, 0], a[:, 1], color='black', ls='-.', lw=2.0, zorder=3)

for cur, c in [(blue_curve, 'blue'), (green_curve, 'green'), (gold_curve, 'gold'), (red_curve, 'red')]:
    a = np.array(cur)
    ax.plot(a[:, 0], a[:, 1], color=c, lw=1.8, zorder=4)

ax.set_xlim(-1, 1)
ax.set_ylim(-1, 1)
ax.set_xticks([-1.0, -0.5, 0.0, 0.5, 1.0])
ax.set_yticks([-1.0, -0.5, 0.0, 0.5, 1.0])
ax.set_xlabel('$d_1$')
ax.set_ylabel('$d_2$')

fig.savefig('out.png', dpi=360)
